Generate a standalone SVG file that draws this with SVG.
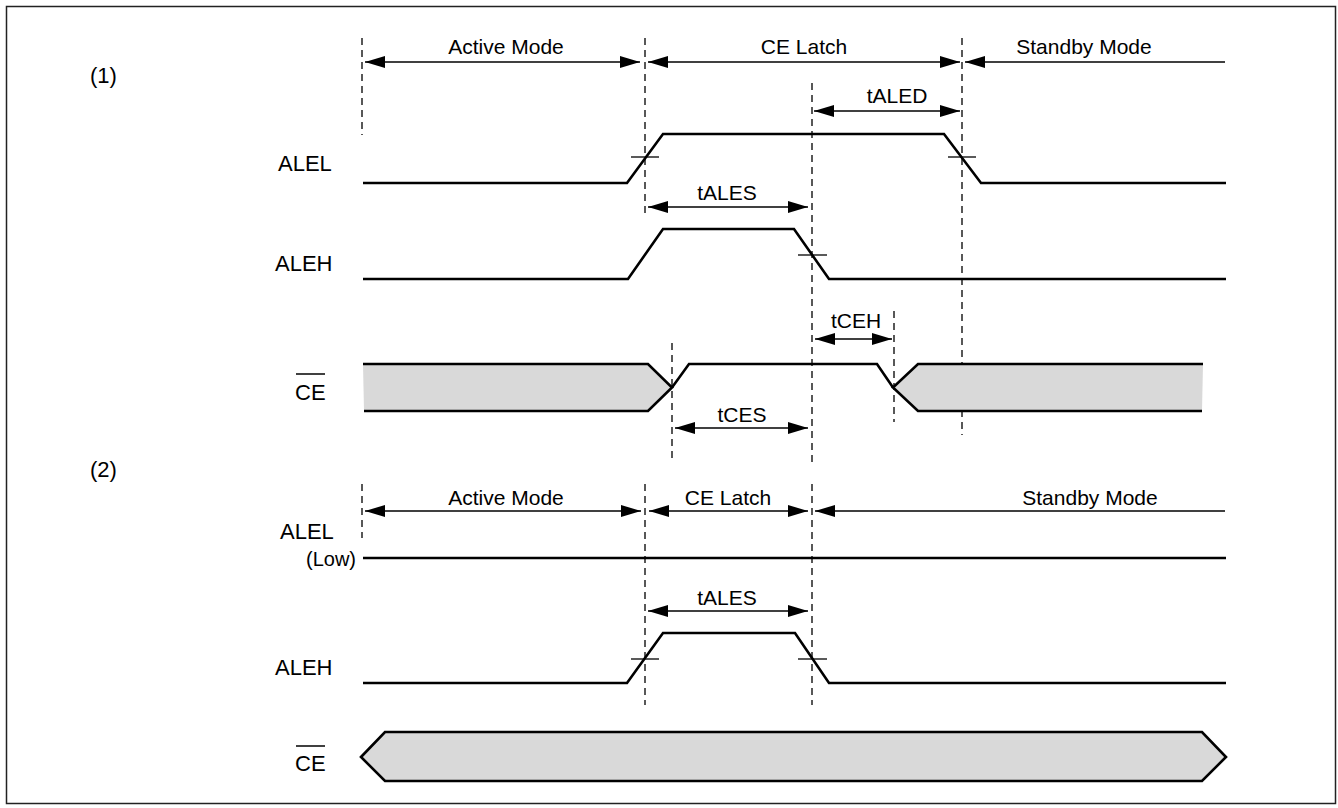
<svg xmlns="http://www.w3.org/2000/svg" width="1338" height="808" viewBox="0 0 1338 808">
<style>
text{font-family:"Liberation Sans",Arial,sans-serif;fill:#000}
.lbl{font-size:22px}
.mode{font-size:21px;text-anchor:middle}
.tim{font-size:21px;text-anchor:middle}
.wave{fill:none;stroke:#000;stroke-width:2.6;stroke-linejoin:miter}
.dash{stroke:#222;stroke-width:1.5;stroke-dasharray:7,5;fill:none}
.dim{stroke:#000;stroke-width:1.5;fill:none}
.tick{stroke:#000;stroke-width:1.3}
.bus{fill:#d9d9d9;stroke:none}
</style>
<defs>
<marker id="ah" markerUnits="userSpaceOnUse" markerWidth="20" markerHeight="12" refX="20" refY="6" orient="auto-start-reverse">
<path d="M0,0 L20,6 L0,12 z" fill="#000"/>
</marker>
</defs>
<rect x="6.5" y="6.5" width="1329" height="797" fill="#fff" stroke="#222" stroke-width="1.5"/>
<text x="90" y="83" style="font-size:22px">(1)</text>
<text x="90" y="477" style="font-size:22px">(2)</text>

<g id="guides">
<line class="dash" x1="362" y1="38" x2="362" y2="135"/>
<line class="dash" x1="645" y1="38" x2="645" y2="213"/>
<line class="dash" x1="812" y1="83" x2="812" y2="462"/>
<line class="dash" x1="962" y1="38" x2="962" y2="435"/>
<line class="dash" x1="672" y1="343" x2="672" y2="460"/>
<line class="dash" x1="894" y1="311" x2="894" y2="422"/>
<line class="dash" x1="362" y1="484" x2="362" y2="538"/>
<line class="dash" x1="645" y1="484" x2="645" y2="705"/>
<line class="dash" x1="812" y1="484" x2="812" y2="705"/>
</g>

<g id="connectors">
<line class="dim" x1="365" y1="62" x2="640" y2="62" marker-start="url(#ah)" marker-end="url(#ah)"/>
<line class="dim" x1="648" y1="62" x2="960" y2="62" marker-start="url(#ah)" marker-end="url(#ah)"/>
<line class="dim" x1="965" y1="62" x2="1225" y2="62" marker-start="url(#ah)"/>
<line class="dim" x1="814" y1="111" x2="960" y2="111" marker-start="url(#ah)" marker-end="url(#ah)"/>
<line class="dim" x1="648" y1="207" x2="808" y2="207" marker-start="url(#ah)" marker-end="url(#ah)"/>
<line class="dim" x1="815" y1="339" x2="892" y2="339" marker-start="url(#ah)" marker-end="url(#ah)"/>
<line class="dim" x1="675" y1="428" x2="808" y2="428" marker-start="url(#ah)" marker-end="url(#ah)"/>
<line class="dim" x1="365" y1="511" x2="641" y2="511" marker-start="url(#ah)" marker-end="url(#ah)"/>
<line class="dim" x1="649" y1="511" x2="808" y2="511" marker-start="url(#ah)" marker-end="url(#ah)"/>
<line class="dim" x1="815" y1="511" x2="1225" y2="511" marker-start="url(#ah)"/>
<line class="dim" x1="648" y1="611" x2="808" y2="611" marker-start="url(#ah)" marker-end="url(#ah)"/>
</g>

<g id="labels">
<text class="mode" x="506" y="54">Active Mode</text>
<text class="mode" x="804" y="54">CE Latch</text>
<text class="mode" x="1084" y="54">Standby Mode</text>
<text class="tim" x="897" y="103">tALED</text>
<text class="tim" x="727" y="200">tALES</text>
<text class="tim" x="856" y="328">tCEH</text>
<text class="tim" x="742" y="422">tCES</text>
<text class="mode" x="506" y="505">Active Mode</text>
<text class="mode" x="728" y="505">CE Latch</text>
<text class="mode" x="1090" y="505">Standby Mode</text>
<text class="tim" x="727" y="605">tALES</text>
</g>

<g id="sig1-alel">
<text class="lbl" x="278" y="171">ALEL</text>
<polyline class="wave" points="363,183 627,183 663,134 944,134 981,183 1226,183"/>
<line class="tick" x1="631" y1="157" x2="659" y2="157"/>
<line class="tick" x1="948" y1="157" x2="976" y2="157"/>
</g>
<g id="sig1-aleh">
<text class="lbl" x="275" y="271">ALEH</text>
<polyline class="wave" points="363,279 628,279 663,229 794,229 829,279 1226,279"/>
<line class="tick" x1="798" y1="255" x2="827" y2="255"/>
</g>
<g id="sig1-ce">
<text class="lbl" x="295" y="400">CE</text>
<line x1="296" y1="374" x2="325" y2="374" stroke="#000" stroke-width="1.5"/>
<polygon class="bus" points="363,364 648,364 672,387.5 648,411 364,411"/>
<polygon class="bus" points="893,387.5 918,364 1203,364 1202,411 918,411"/>
<polyline class="wave" points="363,364 648,364 672,387.5 648,411 364,411"/>
<polyline class="wave" points="672,387.5 689,364 877,364 893,387.5"/>
<polyline class="wave" points="1203,364 918,364 893,387.5 918,411 1202,411"/>
</g>

<g id="sig2-alel">
<text class="lbl" x="280" y="539">ALEL</text>
<text x="356" y="566" style="font-size:20px;text-anchor:end">(Low)</text>
<line class="wave" x1="363" y1="558" x2="1226" y2="558"/>
</g>
<g id="sig2-aleh">
<text class="lbl" x="275" y="675">ALEH</text>
<polyline class="wave" points="363,683 627,683 663,633 795,633 829,683 1226,683"/>
<line class="tick" x1="631" y1="659" x2="659" y2="659"/>
<line class="tick" x1="798" y1="659" x2="827" y2="659"/>
</g>
<g id="sig2-ce">
<text class="lbl" x="295" y="771">CE</text>
<line x1="296" y1="746" x2="325" y2="746" stroke="#000" stroke-width="1.5"/>
<polygon points="361,757 385,732 1202,732 1226,757 1202,781 385,781" fill="#d9d9d9" stroke="#000" stroke-width="2.6"/>
</g>
</svg>
